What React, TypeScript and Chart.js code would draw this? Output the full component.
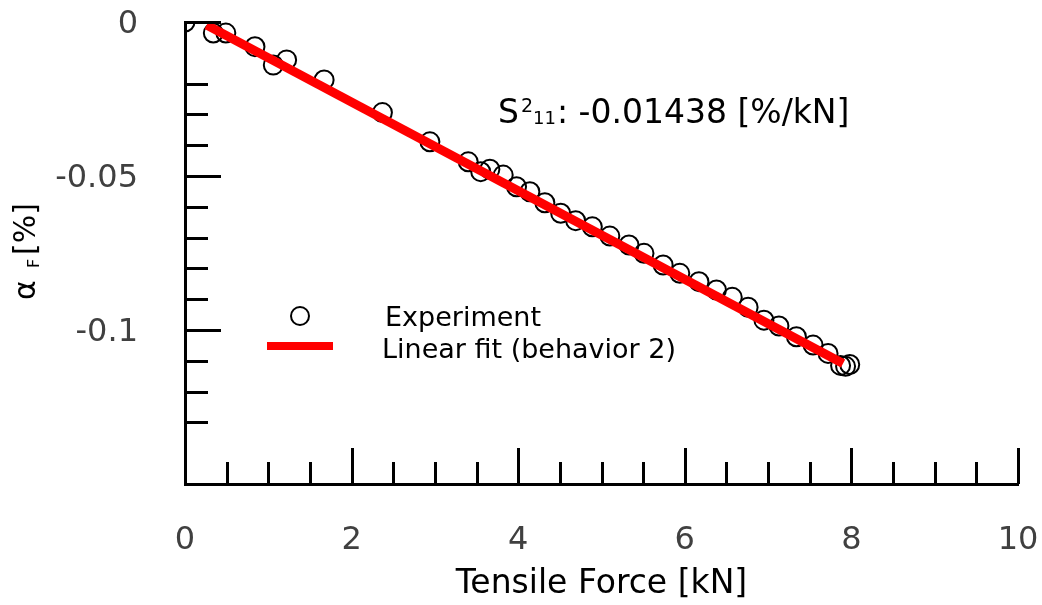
import React, { useEffect, useRef } from 'react';
import { Chart, registerables } from 'chart.js';

Chart.register(...registerables);

// Experiment: tensile force [kN] vs alpha_F [%]
const forceKN = [0, 0.34, 0.49, 0.84, 1.06, 1.22, 1.67, 2.37, 2.94, 3.4, 3.55, 3.66, 3.82, 3.98, 4.14, 4.32, 4.51, 4.69, 4.89, 5.1, 5.33, 5.51, 5.74, 5.94, 6.17, 6.38, 6.57, 6.76, 6.95, 7.13, 7.34, 7.54, 7.72, 7.87, 7.93, 7.98];
const alphaF = [0, -0.0036, -0.0036, -0.008, -0.014, -0.0123, -0.0188, -0.0294, -0.0389, -0.0454, -0.0486, -0.0478, -0.0497, -0.0535, -0.0551, -0.0587, -0.0621, -0.0645, -0.0665, -0.0695, -0.0724, -0.0751, -0.0789, -0.0816, -0.0843, -0.087, -0.0894, -0.0926, -0.0968, -0.0987, -0.1022, -0.1049, -0.1076, -0.1115, -0.1118, -0.1112];

// Linear fit (behavior 2)
const fitForce = [0.26, 7.9];
const fitAlpha = [-0.001, -0.1109];

// Axes
const xRange = [0, 10];
const yRange = [-0.15, 0];
const xLabelTicks = [0, 2, 4, 6, 8, 10];
const xMajorTicks = [2, 4, 6, 8, 10];
const xMinorTicks = [0.5, 1, 1.5, 2.5, 3, 3.5, 4.5, 5, 5.5, 6.5, 7, 7.5, 8.5, 9, 9.5];
const yLabelTicks = [-0.1, -0.05, 0];
const yMajorTicks = [0, -0.05, -0.1];
const yMinorTicks = [-0.02, -0.03, -0.04, -0.06, -0.07, -0.08, -0.09, -0.11, -0.12, -0.13];

const seriesLabels = ['Experiment', 'Linear fit (behavior 2)'];
const xTitle = 'Tensile Force [kN]';
const yTitleParts = ['α', 'F', '[%]'];
const annotationParts = ['S', '2', '11', ': -0.01438 [%/kN]'];

const FONT = '"DejaVu Sans", "Noto Sans", sans-serif';

const App = () => {
  const ref = useRef<HTMLCanvasElement>(null);

  useEffect(() => {
    const canvas = ref.current;
    if (!canvas) return;

    const clipPlugin = {
      id: 'areaClip',
      beforeDatasetsDraw(chart: any) {
        const a = chart.chartArea;
        chart.ctx.save();
        chart.ctx.beginPath();
        chart.ctx.rect(a.left, a.top, a.right - a.left, a.bottom - a.top);
        chart.ctx.clip();
      },
      afterDatasetsDraw(chart: any) {
        chart.ctx.restore();
      },
    };

    const decorPlugin = {
      id: 'decor',
      afterDraw(chart: any) {
        const ctx = chart.ctx as CanvasRenderingContext2D;
        const xs = chart.scales.x;
        const ys = chart.scales.y;
        const area = chart.chartArea;
        ctx.save();
        ctx.strokeStyle = '#000';
        ctx.lineWidth = 3;
        ctx.lineCap = 'butt';
        const majorLen = 36;
        const minorLen = 23;
        // inward y ticks
        const yTick = (v: number, len: number) => {
          const py = Math.round(ys.getPixelForValue(v)) + 0.5;
          ctx.beginPath();
          ctx.moveTo(area.left, py);
          ctx.lineTo(area.left + len, py);
          ctx.stroke();
        };
        yMajorTicks.forEach((v) => yTick(v, majorLen));
        yMinorTicks.forEach((v) => yTick(v, minorLen));
        // inward x ticks
        const xTick = (v: number, len: number) => {
          const px = Math.round(xs.getPixelForValue(v)) + 0.5;
          ctx.beginPath();
          ctx.moveTo(px, area.bottom);
          ctx.lineTo(px, area.bottom - len);
          ctx.stroke();
        };
        xMajorTicks.forEach((v) => xTick(v, majorLen));
        xMinorTicks.forEach((v) => xTick(v, 22));

        // y title with subscript
        ctx.fillStyle = '#000';
        ctx.textBaseline = 'alphabetic';
        ctx.textAlign = 'left';
        ctx.translate(35, 300);
        ctx.rotate(-Math.PI / 2);
        ctx.font = `30px ${FONT}`;
        ctx.fillText(yTitleParts[0], 0, 0);
        ctx.font = `16px ${FONT}`;
        ctx.fillText(yTitleParts[1], 32, 4);
        ctx.font = `30px ${FONT}`;
        ctx.fillText(yTitleParts[2], 45, 0);
        ctx.setTransform(1, 0, 0, 1, 0, 0);

        // annotation
        let ax = 498;
        const base = 123;
        ctx.font = `33px ${FONT}`;
        ctx.fillText(annotationParts[0], ax, base);
        ax += ctx.measureText(annotationParts[0]).width + 2;
        ctx.font = `19px ${FONT}`;
        ctx.fillText(annotationParts[1], ax, base - 11);
        ax += ctx.measureText(annotationParts[1]).width;
        ctx.font = `18px ${FONT}`;
        ctx.fillText(annotationParts[2], ax, base + 1);
        ax += ctx.measureText(annotationParts[2]).width + 1;
        ctx.font = `33px ${FONT}`;
        ctx.fillText(annotationParts[3], ax, base);

        // legend
        const ds = chart.data.datasets;
        ctx.strokeStyle = ds[0].borderColor;
        ctx.lineWidth = 2;
        ctx.beginPath();
        ctx.arc(300, 316, 9, 0, Math.PI * 2);
        ctx.stroke();
        ctx.strokeStyle = ds[1].borderColor;
        ctx.lineWidth = 8;
        ctx.beginPath();
        ctx.moveTo(267, 346);
        ctx.lineTo(333, 346);
        ctx.stroke();
        ctx.fillStyle = '#000';
        ctx.font = `27px ${FONT}`;
        ctx.fillText(ds[0].label, 385, 326);
        ctx.fillText(ds[1].label, 382, 358);
        ctx.restore();
      },
    };

    const zeroPad = (scale: any) => {
      scale.paddingLeft = 0;
      scale.paddingRight = 0;
      scale.paddingTop = 0;
      scale.paddingBottom = 0;
    };

    const chart = new Chart(canvas, {
      type: 'scatter',
      data: {
        datasets: [
          {
            type: 'scatter',
            label: seriesLabels[0],
            data: forceKN.map((x, i) => ({ x, y: alphaF[i] })),
            pointRadius: 9.5,
            pointBorderWidth: 2,
            borderColor: '#000000',
            pointBorderColor: '#000000',
            pointBackgroundColor: 'rgba(0,0,0,0)',
            backgroundColor: 'rgba(0,0,0,0)',
            clip: 0,
            order: 2,
          } as any,
          {
            type: 'line',
            label: seriesLabels[1],
            data: fitForce.map((x, i) => ({ x, y: fitAlpha[i] })),
            borderColor: '#ff0000',
            borderWidth: 9,
            pointRadius: 0,
            fill: false,
            tension: 0,
            order: 1,
          } as any,
        ],
      },
      options: {
        responsive: false,
        animation: false,
        events: [],
        layout: { padding: { top: 22, right: 24, left: 0, bottom: 0 } },
        plugins: {
          legend: { display: false },
          tooltip: { enabled: false },
        },
        scales: {
          x: {
            type: 'linear',
            min: xRange[0],
            max: xRange[1],
            afterBuildTicks: (scale: any) => {
              scale.ticks = xLabelTicks.map((v) => ({ value: v }));
            },
            afterFit: (scale: any) => {
              scale.height = 121;
              zeroPad(scale);
            },
            grid: { display: false, drawTicks: false },
            border: { display: true, color: '#000', width: 3 },
            ticks: {
              font: { size: 32, family: FONT },
              color: '#404040',
              padding: 37,
              maxRotation: 0,
              autoSkip: false,
              callback: (v: any) => String(v),
            },
            title: {
              display: true,
              text: xTitle,
              color: '#000',
              font: { size: 33, family: FONT },
              padding: { top: 0, bottom: 1 },
            },
          },
          y: {
            type: 'linear',
            min: yRange[0],
            max: yRange[1],
            afterBuildTicks: (scale: any) => {
              scale.ticks = yLabelTicks.map((v) => ({ value: v }));
            },
            afterFit: (scale: any) => {
              scale.width = 185;
              zeroPad(scale);
            },
            grid: { display: false, drawTicks: false },
            border: { display: true, color: '#000', width: 3 },
            ticks: {
              font: { size: 32, family: FONT },
              color: '#404040',
              padding: 47,
              labelOffset: 3,
              autoSkip: false,
              callback: (v: any) => (v === 0 ? '0' : String(v)),
            },
          },
        },
      },
      plugins: [clipPlugin, decorPlugin],
    } as any);

    return () => chart.destroy();
  }, []);

  return (
    <div style={{ position: 'absolute', left: 0, top: 0, width: 1042, height: 605, background: '#fff' }}>
      <canvas ref={ref} width={1042} height={605} style={{ display: 'block' }} />
    </div>
  );
};

export default App;
